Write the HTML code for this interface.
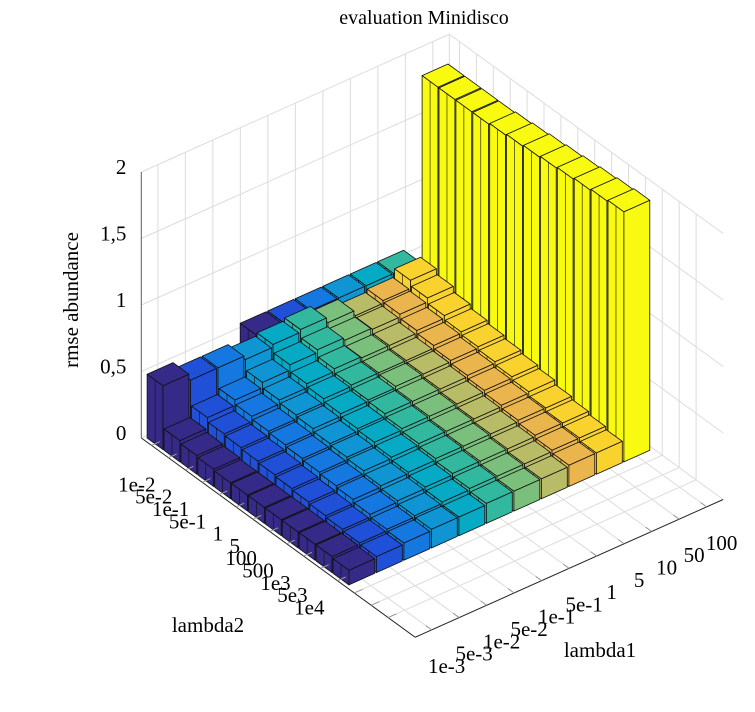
<!DOCTYPE html>
<html><head><meta charset="utf-8"><style>
html,body{margin:0;padding:0;background:#fff;}
svg{display:block;font-family:"Liberation Serif",serif;}
</style></head><body>
<svg id="chart" width="755" height="712" viewBox="0 0 755 712" xmlns="http://www.w3.org/2000/svg">
<text x="424" y="24" font-size="20" text-anchor="middle" fill="#000">evaluation Minidisco</text>
<g id="grid"></g>
<g id="bars"></g>
<g id="axes"></g>
<text transform="translate(78,300) rotate(-90)" font-size="21" text-anchor="middle" fill="#000">rmse abundance</text>
<text x="600" y="657" font-size="21" text-anchor="middle" fill="#000">lambda1</text>
<text x="208" y="632" font-size="21" text-anchor="middle" fill="#000">lambda2</text>
</svg>
<script>
// ---- data ----
const lambda1Labels = ["1e-3","5e-3","1e-2","5e-2","1e-1","5e-1","1","5","10","50","100"];
const lambda2Labels = ["1e-2","5e-2","1e-1","5e-1","1","5","100","500","1e3","5e3","1e4"];
const zTicks = [0, 0.5, 1, 1.5, 2];
const zTickLabels = ["0","0,5","1","1,5","2"];
const row0  = [0.48,0.43,0.43,0.40,0.42,0.44,0.40,0.36,0.38,0.44,1.80];
const row1  = [0.16,0.24,0.28,0.32,0.36,0.38,0.36,0.35,0.37,0.40,1.80];
const row2  = [0.14,0.21,0.25,0.28,0.31,0.33,0.32,0.32,0.34,0.36,1.80];
const row3  = [0.13,0.20,0.23,0.26,0.29,0.30,0.30,0.30,0.32,0.33,1.80];
const row4  = [0.12,0.19,0.22,0.25,0.27,0.28,0.29,0.29,0.30,0.31,1.81];
const row5  = [0.12,0.18,0.21,0.23,0.25,0.27,0.27,0.27,0.28,0.29,1.82];
const row6  = [0.12,0.17,0.20,0.22,0.24,0.25,0.25,0.25,0.26,0.27,1.83];
const row7  = [0.12,0.16,0.19,0.21,0.22,0.23,0.23,0.23,0.24,0.25,1.84];
const row8  = [0.12,0.15,0.18,0.19,0.20,0.21,0.21,0.21,0.22,0.22,1.85];
const row9  = [0.12,0.14,0.16,0.17,0.18,0.19,0.19,0.19,0.20,0.20,1.86];
const row10 = [0.12,0.13,0.14,0.15,0.16,0.17,0.17,0.17,0.18,0.18,1.87];
const row11 = [0.11,0.12,0.13,0.14,0.14,0.15,0.15,0.15,0.16,0.16,1.88];
const backRow = [0.40,0.40,0.40,0.40,0.40,0.40];
const colors = ["#352a87","#2050d8","#1577e0","#0f95d4","#07aac4","#33b8a0","#7abf7c","#b8bc66","#eab54d","#f9d22e","#f8fa10"];
const rows = [row0,row1,row2,row3,row4,row5,row6,row7,row8,row9,row10,row11];

// ---- projection ----
const O = {x:168, y:438}, U = {x:27.5, y:-12.3}, V = {x:16.9, y:12.3}, ZS = 133;
const uMin=-0.6, uMax=10.6, vMin=-0.6, vMax=15.6, zTop=2;
function P(u,v,z){ return [O.x+u*U.x+v*V.x, O.y+u*U.y+v*V.y-z*ZS]; }
const NS="http://www.w3.org/2000/svg";
function mk(tag, parent){ const e=document.createElementNS(NS,tag); parent.appendChild(e); return e; }
function pts(a){ return a.map(p=>p[0].toFixed(1)+","+p[1].toFixed(1)).join(" "); }
function line(parent,a,b,col,w){ const l=mk("line",parent); l.setAttribute("x1",a[0]);l.setAttribute("y1",a[1]);l.setAttribute("x2",b[0]);l.setAttribute("y2",b[1]);l.setAttribute("stroke",col);l.setAttribute("stroke-width",w); return l; }

const grid=document.getElementById("grid");
const gc="#dcdcdc";
for(const z of zTicks){
  const g1=line(grid,P(uMin,vMin,z),P(uMax,vMin,z),gc,1);
  
  
  const g2=line(grid,P(uMax,vMin,z),P(uMax,vMax,z),gc,1);
  
  
}
for(let i=0;i<lambda1Labels.length;i++){
  const g=line(grid,P(i,vMin,0),P(i,vMin,zTop),gc,1);
  
  
  const f=line(grid,P(i,vMin,0),P(i,vMax,0),gc,1);
  
  
}
for(let j=0;j<15;j++){
  const g=line(grid,P(uMax,j,0),P(uMax,j,zTop),gc,1);
  
  
  const f=line(grid,P(uMin,j,0),P(uMax,j,0),gc,1);
  
  
}
const bl=line(grid,P(uMax,vMin,0),P(uMax,vMin,zTop),gc,1);



// ---- bars ----
const barsG=document.getElementById("bars");
const hw=0.47;
function drawBar(u,v,h,col){
  const g=mk("g",barsG);
  
  
  const faces=[
    [P(u-hw,v-hw,0),P(u-hw,v+hw,0),P(u-hw,v+hw,h),P(u-hw,v-hw,h)],
    [P(u-hw,v+hw,0),P(u+hw,v+hw,0),P(u+hw,v+hw,h),P(u-hw,v+hw,h)],
    [P(u-hw,v-hw,h),P(u-hw,v+hw,h),P(u+hw,v+hw,h),P(u+hw,v-hw,h)]
  ];
  for(const f of faces){
    const p=mk("polygon",g);
    p.setAttribute("points",pts(f));
    p.setAttribute("fill",col);
    p.setAttribute("stroke","#111");
    p.setAttribute("stroke-width","0.8");
    p.setAttribute("stroke-linejoin","round");
  }
  const s=line(g,P(u-hw,v,0),P(u-hw,v,h),"#111",0.6);
  
  
}
for(let k=backRow.length-1;k>=0;k--){ drawBar(k+4,-1,backRow[k],colors[k]); }
for(let j=0;j<rows.length;j++){
  for(let i=rows[j].length-1;i>=0;i--){ drawBar(i,j,rows[j][i],colors[i]); }
}

// ---- axes ----
const axG=document.getElementById("axes");
const ac="#262626";
const a1=line(axG,P(uMin,vMax,0),P(uMax,vMax,0),ac,1);


const a2=line(axG,P(uMin,vMin,0),P(uMin,vMax,0),ac,1);


const a3=line(axG,P(uMin,vMin,0),P(uMin,vMin,zTop),"#777",1.2);


for(let i=0;i<lambda1Labels.length;i++){
  const t=P(i,vMax,0);
  const tk=line(axG,t,[t[0]-V.x*0.35,t[1]-V.y*0.35],"#999",1);
  
  
  const tx=mk("text",axG);
  
  
  tx.setAttribute("x",t[0]+15); tx.setAttribute("y",t[1]+43);
  tx.setAttribute("font-size","21"); tx.setAttribute("text-anchor","middle");
  tx.textContent=lambda1Labels[i];
}
for(let j=0;j<15;j++){
  const t=P(uMin,j,0);
  const tk=line(axG,t,[t[0]+U.x*0.3,t[1]+U.y*0.3],"#999",1);
  
  
}
for(let j=0;j<lambda2Labels.length;j++){
  const t=P(uMin,j,0);
  const tx=mk("text",axG);
  
  
  tx.setAttribute("x",t[0]+4); tx.setAttribute("y",t[1]+46);
  tx.setAttribute("font-size","21"); tx.setAttribute("text-anchor","end");
  tx.textContent=lambda2Labels[j];
}
for(let k=0;k<zTicks.length;k++){
  const t=P(uMin,vMin,zTicks[k]);
  const tx=mk("text",axG);
  
  
  tx.setAttribute("x",t[0]-15); tx.setAttribute("y",t[1]+2);
  tx.setAttribute("font-size","21"); tx.setAttribute("text-anchor","end");
  tx.textContent=zTickLabels[k];
}
</script>
</body></html>
